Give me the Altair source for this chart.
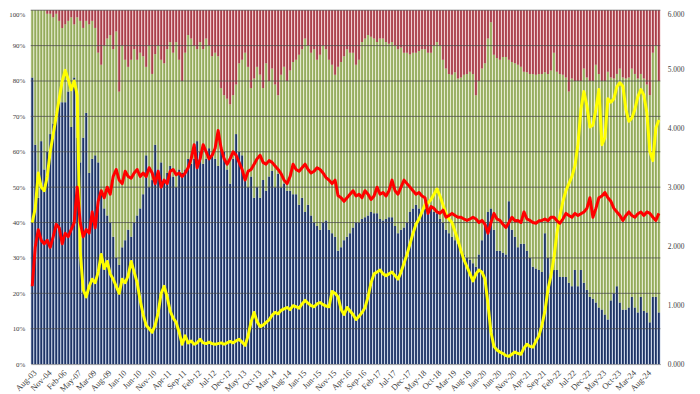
import altair as alt
import pandas as pd

# ---- categories -------------------------------------------------------
early_labels = ["Aug-03", "Nov-03", "Feb-04", "May-04", "Aug-04", "Nov-04", "Feb-05", "May-05",
                "Aug-05", "Nov-05", "Feb-06", "May-06", "Aug-06", "Nov-06", "Feb-07", "May-07",
                "Aug-07", "Nov-07", "Feb-08", "Dec-08"]
monthly_labels = pd.date_range("2009-03-01", "2024-12-01", freq="MS").strftime("%b-%y").tolist()
labels = early_labels + monthly_labels
tick_labels = labels[::5]

# ---- bar segments (percent) -------------------------------------------
navy_top = [
    81, 62, 47, 63, 55, 60, 65, 68, 71, 74,
    74, 74, 77, 67, 81, 64, 57, 64, 71, 54,
    58, 59, 57, 48, 44, 42, 40, 36, 30, 28,
    33, 35, 38, 36, 40, 42, 44, 48, 59, 50,
    52, 62, 55, 57, 52, 54, 56, 53, 50, 55,
    54, 55, 58, 56.6, 58, 63, 60, 56.6, 58, 61,
    59, 58, 56, 61, 60, 55, 51, 58, 65, 60,
    59, 52, 50, 53, 47, 50, 47, 52, 49, 53,
    54.6, 50, 53.8, 50, 51, 49, 49, 48, 48, 45,
    47, 43, 45, 42, 40, 39, 38, 40, 40.6, 38,
    37, 36, 32, 33, 35, 36, 37, 38.6, 40, 40,
    41, 41.5, 42, 43, 42.6, 42.6, 41, 40.6, 41, 41.5,
    41.5, 39, 37, 38, 38.6, 40, 43, 44, 45, 44,
    43, 44, 44, 44, 43, 42.6, 41, 40, 38, 37,
    36, 35, 34, 32, 31, 30, 29.4, 28.5, 27.5, 31,
    35, 40, 43, 44, 38, 32, 32, 31.5, 31, 46,
    38, 36, 33, 34, 34, 32, 30, 27.5, 27, 26.6,
    26, 37, 30, 25.8, 26.6, 26.6, 24.6, 24.6, 24.6, 23,
    22, 26.6, 22, 26.6, 23, 21, 19, 18.5, 17.4, 16,
    15.4, 14, 12.6, 18, 20, 22, 17.4, 15.4, 15.4, 16,
    19, 16, 14.6, 19, 15, 14.6, 11.8, 19, 19, 14.6,
]
green_top = [
    100, 100, 100, 100, 100, 99, 99, 98, 99, 97,
    95, 96, 97, 98, 96, 98, 97, 95, 97, 96,
    97, 95, 88, 84.6, 90, 92, 93, 89, 94, 77,
    90, 86, 84, 86, 89, 86, 88, 87, 84, 90,
    82, 87.6, 90, 86, 85, 89, 91, 88, 91, 86,
    80, 88, 93, 92, 90, 89, 91, 89, 92, 90,
    87, 88, 87, 78, 76, 75, 73.4, 76, 79, 85,
    86, 88, 84, 78, 80.7, 84, 81.8, 78, 85, 80,
    83.5, 79, 76, 81.8, 84, 80, 83, 85.4, 86, 87.4,
    89, 92, 90, 88, 89, 86, 87.4, 90, 89, 86,
    84.6, 81.8, 84, 85.4, 87, 89, 88, 88, 84.6, 86,
    91, 92, 93, 92.5, 92, 91, 92, 92, 91, 90.5,
    91, 90, 89, 89.5, 88, 88, 87.5, 88, 88, 88.5,
    89, 89, 88, 88, 90, 91, 90, 86, 83.5, 82,
    81.8, 82.5, 80.7, 81, 81.8, 82, 82.6, 82, 76, 80,
    83.5, 85, 92, 96.6, 87.4, 86.5, 86, 86.8, 86.8, 86,
    85.4, 85, 84.6, 84, 82.6, 82.5, 82, 82, 81.8, 82,
    82, 82.5, 82, 83, 88, 82.6, 82, 81.8, 81, 77,
    80.7, 80, 80, 80, 83.5, 81, 80, 80, 84.6, 82,
    80, 80, 82.6, 81, 80.7, 82, 83.5, 81, 80.7, 81,
    83.5, 82, 80.7, 82, 80.7, 79, 76, 88, 90, 80,
]

# ---- lines (read in percent of the left scale, right axis = pct * 0.06) --
yellow_pct = [
    40, 44, 54, 50, 49, 53, 60, 65, 70, 75,
    80, 83, 80.5, 77.5, 80, 76, 32, 21, 19, 22,
    24, 23, 26, 31, 27, 29, 25.5, 24, 22, 20,
    24, 23, 25, 29, 26, 23, 18, 14, 11, 10,
    9, 11, 14.5, 20, 22, 19, 15, 13, 11.8, 9,
    5.6, 8, 6, 6.5, 5.6, 6, 7, 6, 5.8, 6.2,
    5.8, 5.6, 5.8, 6, 5.6, 6, 6.4, 6, 6.6, 7,
    6.2, 5.3, 8, 12, 14.6, 12, 10.6, 11, 11.8, 12.5,
    13.8, 14.6, 14.2, 15.2, 15.6, 16, 15.4, 16.5, 16.2, 15.8,
    17, 18, 17.2, 16.5, 16.2, 17, 17.4, 16.8, 16.4, 16.2,
    20.5, 20, 19, 15.5, 14, 16, 15, 14, 12.6, 13.5,
    14.6, 16, 19, 23, 25.5, 26, 26.6, 25.5, 25, 25.5,
    26, 25, 24, 26, 28.5, 31, 34, 37, 39.5, 41,
    43, 45, 45.5, 46.5, 48, 49.5, 47.5, 45, 42.5, 41,
    40, 37.5, 35, 32, 29.5, 27.5, 25.5, 23.5, 25.5, 26.6,
    26, 24, 17, 9, 5, 4, 3.4, 3, 2.4, 2.2,
    2.8, 3.4, 3, 2.8, 4.5, 5.6, 5, 4.8, 6.5, 8,
    11, 15, 21, 25, 30, 37, 42, 46, 49, 51,
    53, 56, 62, 72, 77, 73, 67, 67.5, 72, 77.6,
    62, 64, 75, 74, 75, 78.4, 79.5, 78.5, 72, 68.6,
    69.5, 72, 75.6, 77.6, 76, 71, 60, 57.5, 66.7, 69,
]
red_pct = [
    22, 33, 38, 35, 34, 35, 33, 36, 39.5, 38.5,
    34, 37, 36, 38, 40, 50, 40, 36, 38, 37,
    43, 38.5, 46, 49, 47, 50, 48, 53, 55, 52,
    51, 54.5, 53, 52.5, 54, 55, 53, 54, 53, 55.5,
    54, 51, 54.5, 50, 52, 51, 54.5, 55, 53.5, 54,
    53, 54, 55.5, 58, 62, 55.5, 58, 62, 60, 58,
    59, 61, 66, 61, 58, 56.5, 58, 60, 59, 57,
    55, 52, 54.5, 55, 56.5, 58, 59, 57, 56.5, 57.5,
    57, 56, 55, 53.8, 52, 51, 53, 56.5, 55, 54.5,
    55.5, 56.5, 55, 54, 54.5, 55.5, 55, 54, 52.7, 52,
    51, 52, 47.6, 47, 46, 47, 48, 49, 47.5, 48,
    47, 49, 48, 46.5, 47.5, 50, 48, 48.5, 47.5, 49,
    52, 49, 48, 50, 52, 51, 50, 49, 48, 48.5,
    47.5, 47, 42.6, 44.5, 44, 43, 42.6, 43.5, 41.5, 42,
    42.6, 42, 41.5, 41.5, 41, 40.6, 41, 41.5, 41, 40,
    40.6, 39.5, 37, 40, 42.6, 41, 40.6, 39.5, 38.6, 40,
    41.5, 40.5, 40.6, 40, 43, 41, 40.6, 40, 39.8, 40.5,
    40.6, 41, 40.5, 41.5, 41.5, 40.5, 39.8, 41, 42.6, 42,
    41.5, 42.6, 42, 42.5, 43, 44, 47, 41.5, 44, 47,
    47.5, 48.5, 47, 46, 44, 43, 42, 40.6, 42, 43,
    42, 41.5, 42.5, 43, 42, 43, 42.6, 41.5, 40.6, 42.6,
]

n = len(labels)
assert all(len(a) == n for a in (navy_top, green_top, yellow_pct, red_pct)), [len(a) for a in (navy_top, green_top, yellow_pct, red_pct)]

# ---- tables ------------------------------------------------------------
rows = []
for lab, nv, gt in zip(labels, navy_top, green_top):
    rows.append({"label": lab, "seg": "a", "y0": 0, "y1": nv, "light": "#b9c6de", "dark": "#1e3466"})
    rows.append({"label": lab, "seg": "b", "y0": nv, "y1": gt, "light": "#dce5c0", "dark": "#94ab5c"})
    rows.append({"label": lab, "seg": "c", "y0": gt, "y1": 100, "light": "#ebbcc1", "dark": "#a93f4a"})
bars = pd.DataFrame(rows)

lines = pd.DataFrame({
    "label": labels,
    "yellow": [round(v * 0.06, 3) for v in yellow_pct],
    "red": [round(v * 0.06, 3) for v in red_pct],
})
grid = pd.DataFrame({"g": [10, 20, 30, 40, 50, 60, 70, 80, 90, 100]})

FONT = "Liberation Serif"
x_enc = alt.X(
    "label:N", sort=labels, title=None,
    scale=alt.Scale(paddingInner=0, paddingOuter=0),
    axis=alt.Axis(values=tick_labels, labelAngle=-45, labelFont=FONT, labelFontSize=8.5,
                  labelColor="#404040", ticks=False, domain=True, domainColor="#9a9a9a",
                  labelPadding=4, labelOverlap=False),
)
left_scale = alt.Scale(domain=[0, 100], nice=False, zero=True)
right_scale = alt.Scale(domain=[0, 6], nice=False, zero=True)

left_axis = alt.Axis(values=[0, 10, 20, 30, 40, 50, 60, 70, 80, 90, 100],
                     labelExpr="datum.value + '%'", grid=False, ticks=False, domain=False,
                     labelFont=FONT, labelFontSize=7, labelColor="#404040", labelPadding=6,
                     labelBaseline=alt.condition("datum.value == 100", alt.value("top"), alt.value("middle")),
                     title=None)
right_axis = alt.Axis(values=[0, 1, 2, 3, 4, 5, 6], format=".3f", orient="right",
                      grid=False, ticks=False, domain=False,
                      labelFont=FONT, labelFontSize=7.5, labelColor="#404040", labelPadding=7,
                      labelBaseline=alt.condition("datum.value == 6", alt.value("top"), alt.value("middle")),
                      title=None)

light = alt.Chart(bars).mark_bar().encode(
    x=x_enc,
    y=alt.Y("y0:Q", scale=left_scale, axis=left_axis),
    y2="y1:Q",
    color=alt.Color("light:N", scale=None),
)
dark = alt.Chart(bars).mark_bar(width=alt.RelativeBandSize(0.6)).encode(
    x=x_enc,
    y=alt.Y("y0:Q", scale=left_scale, axis=None),
    y2="y1:Q",
    color=alt.Color("dark:N", scale=None),
)
gridlines = alt.Chart(grid).mark_rule(color="#4a4a4a", strokeWidth=0.9, opacity=0.85).encode(
    y=alt.Y("g:Q", scale=left_scale, axis=None)
)
yellow_line = alt.Chart(lines).mark_line(color="#ffff00", strokeWidth=3, strokeJoin="round").encode(
    x=x_enc,
    y=alt.Y("yellow:Q", scale=right_scale, axis=right_axis),
)
red_line = alt.Chart(lines).mark_line(color="#ff0000", strokeWidth=3, strokeJoin="round").encode(
    x=x_enc,
    y=alt.Y("red:Q", scale=right_scale, axis=None),
)

chart = alt.layer(light, dark, gridlines, yellow_line, red_line).resolve_scale(
    y="independent"
).properties(
    width=637, height=358,
    autosize=alt.AutoSizeParams(type="none"),
    padding={"left": 23, "top": 0, "right": 32, "bottom": 28},
    background="white",
).configure_view(stroke=None)

chart.save("out.html", embed_options={"renderer": "svg", "actions": False})
